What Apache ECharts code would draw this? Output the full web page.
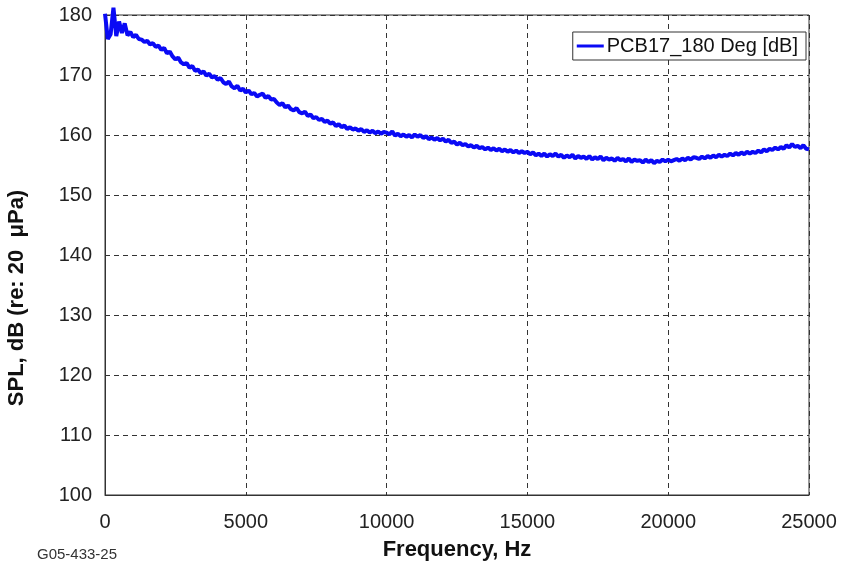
<!DOCTYPE html>
<html>
<head>
<meta charset="utf-8">
<script src="https://cdn.jsdelivr.net/npm/echarts@6/dist/echarts.min.js"></script>
<style>html,body{margin:0;padding:0;background:#fff;}#c{width:843px;height:571px;}</style>
</head>
<body>
<div id="c"></div>
<script>
var seriesName = 'PCB17_180 Deg [dB]';
var xAxisTitle = 'Frequency, Hz';
var yAxisTitle = 'SPL, dB (re: 20  \u03bcPa)';
var figureId = 'G05-433-25';
var freqStep = 100;
var xTicks = [0, 5000, 10000, 15000, 20000, 25000];
var yTicks = [100, 110, 120, 130, 140, 150, 160, 170, 180];
var splValues = [
180.2, 176.0, 176.8, 181.2, 176.5, 178.9, 177.0, 178.6, 176.6, 177.2,
176.3, 176.7, 176.0, 175.9, 175.5, 175.7, 175.1, 175.3, 174.7, 174.9,
174.2, 174.5, 173.6, 173.9, 173.1, 172.6, 172.9, 172.1, 171.8, 172.0,
171.2, 171.5, 170.7, 170.9, 170.3, 170.6, 169.9, 170.2, 169.6, 169.8,
169.2, 169.5, 168.8, 168.5, 168.9, 168.1, 167.8, 168.2, 167.4, 167.7,
167.1, 167.4, 166.8, 167.0, 166.4, 166.7, 166.9, 166.2, 166.5, 165.9,
166.0, 165.4, 165.0, 165.3, 164.6, 164.9, 164.3, 164.1, 164.5, 163.8,
163.6, 163.9, 163.2, 163.4, 162.8, 163.0, 162.5, 162.7, 162.2, 162.4,
161.9, 162.1, 161.5, 161.8, 161.3, 161.6, 161.0, 161.3, 160.9, 161.1,
160.7, 161.0, 160.5, 160.8, 160.4, 160.7, 160.3, 160.6, 160.2, 160.5,
160.4, 160.1, 160.6, 159.9, 160.2, 159.8, 160.1, 159.7, 160.0, 159.6,
160.1, 159.7, 160.0, 159.5, 159.8, 159.3, 159.6, 159.2, 159.5, 159.1,
159.4, 158.9, 159.2, 158.7, 158.9, 158.4, 158.7, 158.3, 158.5, 158.1,
158.3, 157.9, 158.2, 157.8, 158.0, 157.6, 157.9, 157.5, 157.8, 157.4,
157.7, 157.3, 157.6, 157.2, 157.5, 157.1, 157.4, 157.0, 157.3, 157.0,
157.2, 156.8, 157.1, 156.6, 156.9, 156.5, 156.9, 156.4, 156.8, 156.5,
156.9, 156.4, 156.7, 156.2, 156.6, 156.3, 156.7, 156.1, 156.5, 156.2,
156.4, 156.0, 156.5, 155.9, 156.3, 156.0, 156.4, 155.8, 156.2, 155.9,
156.1, 155.7, 156.2, 155.8, 156.0, 155.6, 156.1, 155.5, 155.9, 155.7,
155.8, 155.4, 155.9, 155.5, 155.8, 155.3, 155.7, 155.5, 155.9, 155.6,
155.9, 155.6, 155.8, 156.0, 155.7, 156.1, 155.8, 156.2, 155.9, 156.3,
156.2, 156.0, 156.4, 156.1, 156.5, 156.2, 156.6, 156.3, 156.7, 156.4,
156.7, 156.5, 156.9, 156.6, 157.0, 156.7, 157.1, 156.8, 157.2, 156.9,
157.2, 157.0, 157.4, 157.1, 157.6, 157.3, 157.7, 157.5, 157.9, 157.6,
158.0, 157.7, 158.3, 157.9, 158.5, 158.0, 158.2, 157.8, 158.3, 157.7,
157.6
];
var data = splValues.map(function (v, i) { return [i * freqStep, v]; });

var chart = echarts.init(document.getElementById('c'));
var font = 'Liberation Sans, Arial, sans-serif';
chart.setOption({
  animation: false,
  backgroundColor: '#fff',
  grid: { left: 105, top: 15, right: 34, bottom: 76, show: true, borderColor: '#333', borderWidth: 1, backgroundColor: 'transparent' },
  legend: {
    data: [seriesName], right: 37, top: 32,
    backgroundColor: '#fff', borderColor: '#333', borderWidth: 1, borderRadius: 0,
    padding: [4, 8, 4, 4], icon: 'rect', itemWidth: 27, itemHeight: 3, itemGap: 4,
    textStyle: { fontFamily: font, fontSize: 20, color: '#111', padding: [0, 0, 0, -2] }
  },
  xAxis: {
    type: 'value', min: xTicks[0], max: xTicks[xTicks.length - 1], interval: 5000,
    name: xAxisTitle, nameLocation: 'middle', nameGap: 44,
    nameTextStyle: { fontFamily: font, fontSize: 22, fontWeight: 'bold', color: '#111' },
    axisLine: { show: true, lineStyle: { color: '#333', width: 1 } },
    axisTick: { show: false },
    axisLabel: { fontFamily: font, fontSize: 20, color: '#222', margin: 17, formatter: function (v) { return String(v); } },
    splitLine: { show: true, lineStyle: { color: '#333', type: [5, 4], width: 1 } }
  },
  yAxis: {
    type: 'value', min: yTicks[0], max: yTicks[yTicks.length - 1], interval: 10,
    axisLine: { show: true, lineStyle: { color: '#333', width: 1 } },
    axisTick: { show: false },
    axisLabel: { fontFamily: font, fontSize: 20, color: '#222', margin: 13, formatter: function (v) { return String(v); } },
    splitLine: { show: true, lineStyle: { color: '#333', type: [5, 4], width: 1 } }
  },
  graphic: [{
    type: 'text', left: 37, top: 547,
    style: { text: figureId, fontFamily: font, fontSize: 15, fill: '#333' }
  }, {
    type: 'text', x: 17, y: 298, rotation: Math.PI / 2,
    style: { text: yAxisTitle, fontFamily: font, fontSize: 22, fontWeight: 'bold', fill: '#111', align: 'center', verticalAlign: 'middle' }
  }],
  series: [{
    name: seriesName, type: 'line', data: data, showSymbol: false, symbol: 'none',
    clip: false,
    lineStyle: { color: '#0a0af5', width: 4 }, itemStyle: { color: '#0a0af5' }
  }]
});
</script>
</body>
</html>
